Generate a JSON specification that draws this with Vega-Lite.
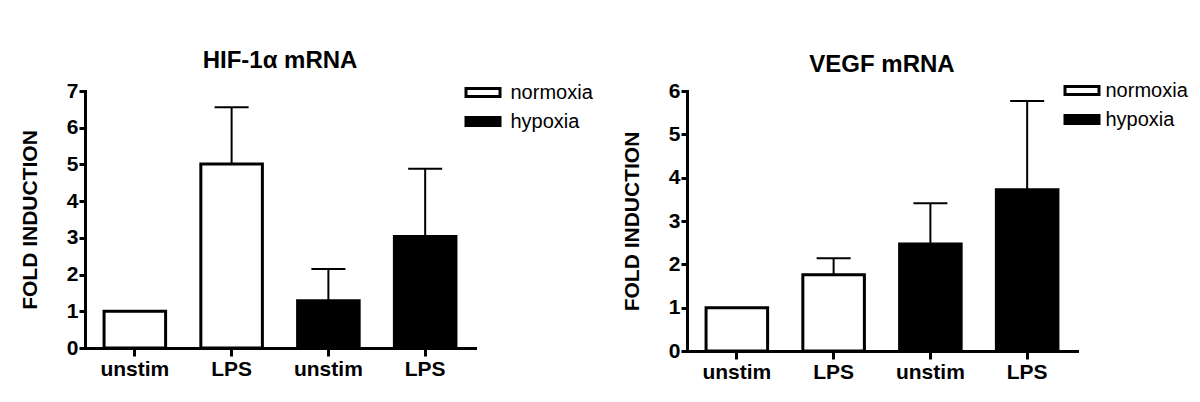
{
  "$schema": "https://vega.github.io/schema/vega-lite/v6.json",
  "background": "white",
  "padding": {"left": 19, "top": 49, "right": 5, "bottom": 5},
  "bounds": "flush",
  "spacing": 212,
  "config": {
    "font": "Liberation Sans",
    "view": {"stroke": null},
    "axis": {
      "domainColor": "black",
      "domainWidth": 3,
      "domainCap": "square",
      "tickColor": "black",
      "tickWidth": 3,
      "labelColor": "black",
      "labelFont": "Liberation Sans",
      "labelFontSize": 21,
      "labelFontWeight": "bold",
      "labelOverlap": false,
      "titleColor": "black",
      "titleFont": "Liberation Sans",
      "titleFontSize": 21,
      "titleFontWeight": "bold",
      "grid": false
    },
    "title": {"font": "Liberation Sans", "fontSize": 24, "fontWeight": "bold", "color": "black"},
    "legend": {
      "labelFont": "Liberation Sans",
      "labelFontSize": 20,
      "labelColor": "black",
      "padding": 0
    }
  },
  "datasets": {
    "hif": [
      {"group": "normoxia|unstim", "condition": "normoxia", "value": 1.0, "upper": null},
      {"group": "normoxia|LPS", "condition": "normoxia", "value": 5.01, "upper": 6.56},
      {"group": "hypoxia|unstim", "condition": "hypoxia", "value": 1.29, "upper": 2.15},
      {"group": "hypoxia|LPS", "condition": "hypoxia", "value": 3.04, "upper": 4.88}
    ],
    "vegf": [
      {"group": "normoxia|unstim", "condition": "normoxia", "value": 1.0, "upper": null},
      {"group": "normoxia|LPS", "condition": "normoxia", "value": 1.76, "upper": 2.14},
      {"group": "hypoxia|unstim", "condition": "hypoxia", "value": 2.47, "upper": 3.41},
      {"group": "hypoxia|LPS", "condition": "hypoxia", "value": 3.72, "upper": 5.77}
    ]
  },
  "resolve": {
    "scale": {"x": "independent", "y": "independent", "fill": "independent"},
    "legend": {"fill": "independent"}
  },
  "hconcat": [
    {
      "width": 390,
      "height": 257,
      "title": {"text": "HIF-1α mRNA", "offset": 1},
      "data": {"name": "hif"},
      "encoding": {
        "x": {
          "field": "group",
          "type": "nominal",
          "sort": ["normoxia|unstim", "normoxia|LPS", "hypoxia|unstim", "hypoxia|LPS"],
          "scale": {"paddingInner": 0.364, "paddingOuter": 0.197},
          "axis": {"title": null, "labelAngle": 0, "tickSize": 8, "labelPadding": 2, "labelExpr": "split(datum.label, '|')[1]"}
        }
      },
      "layer": [
        {
          "mark": {"type": "bar", "stroke": "black", "strokeWidth": 3},
          "encoding": {
            "y": {
              "field": "value",
              "type": "quantitative",
              "scale": {"domain": [0, 7], "nice": false},
              "axis": {"title": "FOLD INDUCTION", "values": [0, 1, 2, 3, 4, 5, 6, 7], "tickCount": 20, "format": "d", "tickSize": 6, "labelPadding": 1, "titlePadding": 26}
            },
            "fill": {
              "field": "condition",
              "type": "nominal",
              "scale": {"domain": ["normoxia", "hypoxia"], "range": ["white", "black"]},
              "legend": {
                "title": null,
                "orient": "none",
                "legendX": 379.5,
                "legendY": -17,
                "symbolType": "M-1,-0.235H1V0.235H-1Z",
                "symbolSize": 1156,
                "symbolStrokeColor": "black",
                "symbolStrokeWidth": 3,
                "symbolOpacity": 1,
                "rowPadding": -7,
                "labelOffset": 9
              }
            }
          }
        },
        {
          "transform": [{"filter": "datum.upper != null"}],
          "mark": {"type": "rule", "color": "black", "strokeWidth": 2},
          "encoding": {
            "y": {"field": "value", "type": "quantitative", "axis": {"title": "FOLD INDUCTION", "values": [0, 1, 2, 3, 4, 5, 6, 7], "tickCount": 20, "format": "d", "tickSize": 6, "labelPadding": 1, "titlePadding": 26}},
            "y2": {"field": "upper"}
          }
        },
        {
          "transform": [{"filter": "datum.upper != null"}],
          "mark": {"type": "tick", "color": "black", "thickness": 2, "size": 34, "opacity": 1},
          "encoding": {
            "y": {"field": "upper", "type": "quantitative", "axis": {"title": "FOLD INDUCTION", "values": [0, 1, 2, 3, 4, 5, 6, 7], "tickCount": 20, "format": "d", "tickSize": 6, "labelPadding": 1, "titlePadding": 26}}
          }
        }
      ]
    },
    {
      "width": 390,
      "height": 260,
      "title": {"text": "VEGF mRNA", "offset": -5},
      "data": {"name": "vegf"},
      "encoding": {
        "x": {
          "field": "group",
          "type": "nominal",
          "sort": ["normoxia|unstim", "normoxia|LPS", "hypoxia|unstim", "hypoxia|LPS"],
          "scale": {"paddingInner": 0.364, "paddingOuter": 0.197},
          "axis": {"title": null, "labelAngle": 0, "tickSize": 8, "labelPadding": 2, "labelExpr": "split(datum.label, '|')[1]"}
        }
      },
      "layer": [
        {
          "mark": {"type": "bar", "stroke": "black", "strokeWidth": 3},
          "encoding": {
            "y": {
              "field": "value",
              "type": "quantitative",
              "scale": {"domain": [0, 6], "nice": false},
              "axis": {"title": "FOLD INDUCTION", "values": [0, 1, 2, 3, 4, 5, 6], "tickCount": 20, "format": "d", "tickSize": 6, "labelPadding": 1, "titlePadding": 26}
            },
            "fill": {
              "field": "condition",
              "type": "nominal",
              "scale": {"domain": ["normoxia", "hypoxia"], "range": ["white", "black"]},
              "legend": {
                "title": null,
                "orient": "none",
                "legendX": 376.5,
                "legendY": -19,
                "symbolType": "M-1,-0.235H1V0.235H-1Z",
                "symbolSize": 1156,
                "symbolStrokeColor": "black",
                "symbolStrokeWidth": 3,
                "symbolOpacity": 1,
                "rowPadding": -11,
                "labelOffset": 5
              }
            }
          }
        },
        {
          "transform": [{"filter": "datum.upper != null"}],
          "mark": {"type": "rule", "color": "black", "strokeWidth": 2},
          "encoding": {
            "y": {"field": "value", "type": "quantitative", "axis": {"title": "FOLD INDUCTION", "values": [0, 1, 2, 3, 4, 5, 6], "tickCount": 20, "format": "d", "tickSize": 6, "labelPadding": 1, "titlePadding": 26}},
            "y2": {"field": "upper"}
          }
        },
        {
          "transform": [{"filter": "datum.upper != null"}],
          "mark": {"type": "tick", "color": "black", "thickness": 2, "size": 34, "opacity": 1},
          "encoding": {
            "y": {"field": "upper", "type": "quantitative", "axis": {"title": "FOLD INDUCTION", "values": [0, 1, 2, 3, 4, 5, 6], "tickCount": 20, "format": "d", "tickSize": 6, "labelPadding": 1, "titlePadding": 26}}
          }
        }
      ]
    }
  ]
}
